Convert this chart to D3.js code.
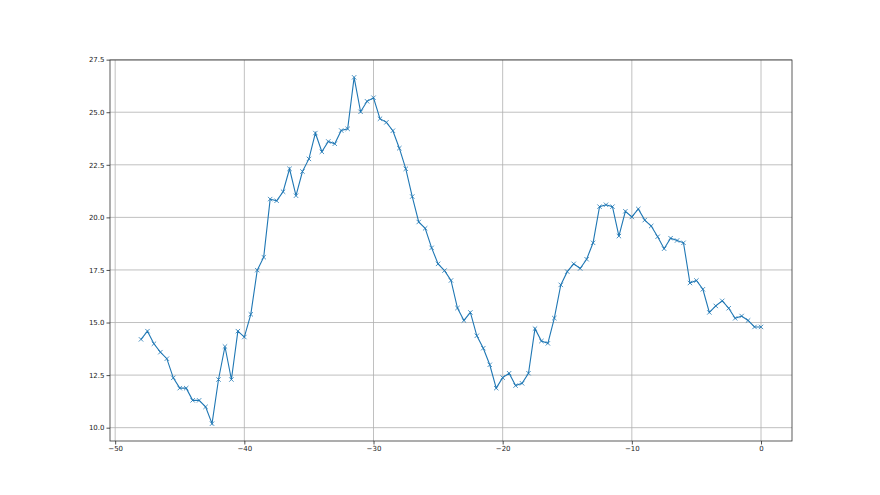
<!DOCTYPE html>
<html>
<head>
<meta charset="utf-8">
<script src="https://cdn.jsdelivr.net/npm/d3@7"></script>
<style>
  body { margin: 0; background: #fff; }
  svg text { font-family: "DejaVu Sans", sans-serif; }
</style>
</head>
<body>
<svg width="880" height="495"></svg>
<script>
const svg = d3.select("svg");

// x positions: -48 .. 0 in half steps
const xValues = d3.range(-48, 0.001, 0.5);
const yValues = [
  14.20, 14.59, 13.99, 13.59, 13.28, 12.37, 11.88, 11.88, 11.30, 11.30,
  10.99, 10.19, 12.29, 13.86, 12.29, 14.59, 14.31, 15.39, 17.49, 18.11,
  20.87, 20.79, 21.22, 22.31, 21.03, 22.18, 22.78, 24.01, 23.12, 23.61,
  23.50, 24.13, 24.21, 26.66, 25.02, 25.52, 25.69, 24.69, 24.52, 24.12,
  23.29, 22.31, 20.99, 19.78, 19.48, 18.55, 17.79, 17.47, 17.00, 15.69,
  15.10, 15.48, 14.37, 13.78, 12.99, 11.88, 12.38, 12.59, 12.00, 12.11,
  12.59, 14.71, 14.12, 14.01, 15.21, 16.79, 17.42, 17.79, 17.57, 18.01,
  18.79, 20.51, 20.60, 20.51, 19.11, 20.29, 20.02, 20.40, 19.87, 19.59,
  19.08, 18.51, 19.01, 18.90, 18.79, 16.88, 17.00, 16.58, 15.48, 15.79,
  16.03, 15.68, 15.20, 15.31, 15.10, 14.79, 14.79
];
const xTicks = [-50, -40, -30, -20, -10, 0];
const yTicks = [10.0, 12.5, 15.0, 17.5, 20.0, 22.5, 25.0, 27.5];

const points = xValues.map((x, i) => ({ x: x, y: yValues[i] }));

const plotLeft = 110, plotRight = 792, plotTop = 60, plotBottom = 441;

// matplotlib-like 5% margins
const xr = d3.extent(xValues), yr = d3.extent(yValues);
const xPad = (xr[1] - xr[0]) * 0.05, yPad = (yr[1] - yr[0]) * 0.05;
const x = d3.scaleLinear().domain([xr[0] - xPad, xr[1] + xPad]).range([plotLeft, plotRight]);
const y = d3.scaleLinear().domain([yr[0] - yPad, yr[1] + yPad]).range([plotBottom, plotTop]);

// grid
const grid = svg.append("g");
grid.selectAll(".gx").data(xTicks).enter().append("line")
  .attr("x1", d => x(d)).attr("x2", d => x(d))
  .attr("y1", plotTop).attr("y2", plotBottom)
  .attr("stroke", "#b0b0b0").attr("stroke-width", 0.8);
grid.selectAll(".gy").data(yTicks).enter().append("line")
  .attr("x1", plotLeft).attr("x2", plotRight)
  .attr("y1", d => y(d)).attr("y2", d => y(d))
  .attr("stroke", "#b0b0b0").attr("stroke-width", 0.8);

// axes
const xAxis = svg.append("g")
  .attr("transform", `translate(0,${plotBottom})`)
  .call(d3.axisBottom(x).tickValues(xTicks).tickSize(3.5).tickPadding(2)
    .tickFormat(d => d3.format("d")(d).replace("-", "\u2212")));
const yAxis = svg.append("g")
  .attr("transform", `translate(${plotLeft},0)`)
  .call(d3.axisLeft(y).tickValues(yTicks).tickSize(3.5).tickPadding(2)
    .tickFormat(d3.format(".1f")));
[xAxis, yAxis].forEach(g => {
  g.select(".domain").remove();
  g.selectAll("line").attr("stroke", "#222").attr("stroke-width", 0.8);
  g.selectAll("text").attr("fill", "#222").style("font-size", "7px");
});

// frame
svg.append("rect")
  .attr("x", plotLeft).attr("y", plotTop)
  .attr("width", plotRight - plotLeft).attr("height", plotBottom - plotTop)
  .attr("fill", "none").attr("stroke", "#333").attr("stroke-width", 0.8);

// line
const line = d3.line().x(d => x(d.x)).y(d => y(d.y));
svg.append("path")
  .datum(points)
  .attr("d", line)
  .attr("fill", "none")
  .attr("stroke", "#1f77b4")
  .attr("stroke-width", 1.1);

// x markers
const m = 2.2;
svg.append("g").selectAll("path").data(points).enter().append("path")
  .attr("d", d => {
    const px = x(d.x), py = y(d.y);
    return `M${px - m},${py - m}L${px + m},${py + m}M${px - m},${py + m}L${px + m},${py - m}`;
  })
  .attr("stroke", "#1f77b4")
  .attr("stroke-width", 0.8)
  .attr("fill", "none");
</script>
</body>
</html>
